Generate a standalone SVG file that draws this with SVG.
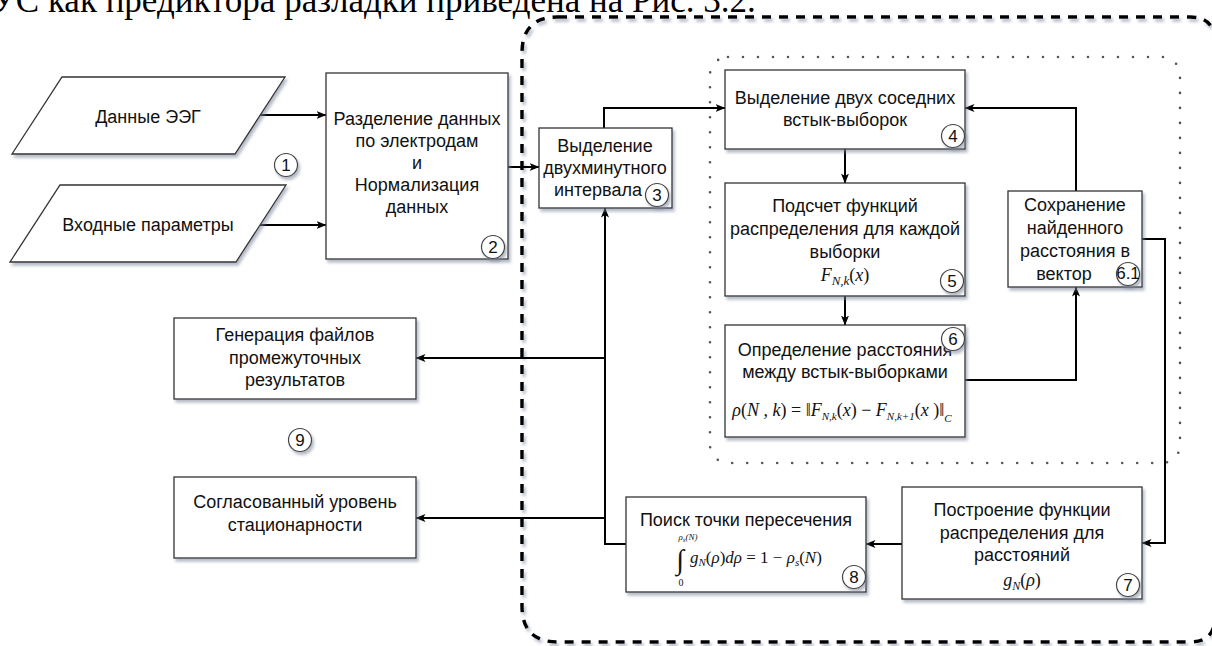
<svg xmlns="http://www.w3.org/2000/svg" width="1212" height="646" viewBox="0 0 1212 646">
<defs>
<filter id="sh" x="-10%" y="-10%" width="130%" height="140%">
<feDropShadow dx="2" dy="3" stdDeviation="1.5" flood-color="#7a8499" flood-opacity="0.55"/>
</filter>
<marker id="ar" viewBox="0 0 10 8" markerWidth="10" markerHeight="8" refX="9.5" refY="4" orient="auto" markerUnits="userSpaceOnUse">
<path d="M0,0 L10,4 L0,8 L2.5,4 z" fill="#000"/>
</marker>
<style>
.box{fill:#fff;stroke:#333;stroke-width:1.3;filter:url(#sh)}
.t{font-family:"Liberation Sans",Arial,sans-serif;font-size:18px;fill:#111;text-anchor:middle}
.m{font-family:"Liberation Serif","Times New Roman",serif;font-size:18px;font-style:italic;fill:#111;text-anchor:middle}
.nc{fill:#fff;stroke:#444;stroke-width:1.2;filter:url(#sh)}
.nt{font-family:"Liberation Sans",Arial,sans-serif;font-size:17px;fill:#111;text-anchor:middle}
.ca{fill:none;stroke:#000;stroke-width:2;marker-end:url(#ar)}
.dash{fill:none;stroke:#000;stroke-width:3.5;stroke-dasharray:9 8;filter:url(#sh)}
.dot{fill:none;stroke:#555;stroke-width:2.6;stroke-dasharray:0 15;stroke-linecap:round}
</style>
</defs>

<text x="-9" y="12" font-family="Liberation Serif,'Times New Roman',serif" font-size="35" fill="#000">УС как предиктора разладки приведена на Рис. 3.2.</text>

<g id="borders">
<path class="dash" d="M558,17 L1190,17 Q1215,17 1215,42 L1215,617 Q1215,642 1190,642 L558,642 Q522,642 522,606 L522,53 Q522,17 558,17 Z"/>
<rect class="dot" x="710" y="57" width="470" height="406" rx="18"/>
</g>

<g id="connectors">
<polyline class="ca" points="260,115 326,115"/>
<polyline class="ca" points="260,225 326,225"/>
<polyline class="ca" points="508,167 539,167"/>
<polyline class="ca" points="604,128 604,108 725,108"/>
<polyline class="ca" points="845,149 845,183"/>
<polyline class="ca" points="845,296 845,325"/>
<polyline class="ca" points="965,380 1076,380 1076,287"/>
<polyline class="ca" points="1076,191 1076,108 965,108"/>
<polyline class="ca" points="1142,239 1165,239 1165,543 1142,543"/>
<polyline class="ca" points="902,544 866,544"/>
<polyline class="ca" points="626,544 605,544 605,208"/>
<polyline class="ca" points="605,358 416,358"/>
<polyline class="ca" points="605,518 416,518"/>
</g>

<g id="n1">
<polygon class="box" points="62,77 285,77 235,154 12,154"/>
<text class="t" x="148" y="123">Данные ЭЭГ</text>
</g>
<g id="n1b">
<polygon class="box" points="60,185 286,185 236,262 10,262"/>
<text class="t" x="148" y="231">Входные параметры</text>
</g>
<g id="c1"><circle class="nc" cx="286" cy="165" r="11.5"/><text class="nt" x="286" y="171">1</text></g>

<g id="n2">
<rect class="box" x="326" y="73" width="182" height="186"/>
<text class="t" x="417" y="125">Разделение данных</text>
<text class="t" x="417" y="147">по электродам</text>
<text class="t" x="417" y="169">и</text>
<text class="t" x="417" y="191">Нормализация</text>
<text class="t" x="417" y="213">данных</text>
<circle class="nc" cx="493" cy="247" r="11.5"/><text class="nt" x="493" y="253">2</text>
</g>

<g id="n3">
<rect class="box" x="539" y="128" width="133" height="80"/>
<text class="t" x="605" y="152">Выделение</text>
<text class="t" x="605" y="174">двухминутного</text>
<text class="t" x="598" y="196">интервала</text>
<circle class="nc" cx="657" cy="195" r="11.5"/><text class="nt" x="657" y="201">3</text>
</g>

<g id="n4">
<rect class="box" x="725" y="70" width="240" height="79"/>
<text class="t" x="845" y="104">Выделение двух соседних</text>
<text class="t" x="845" y="126">встык-выборок</text>
<circle class="nc" cx="953" cy="136" r="11.5"/><text class="nt" x="953" y="142">4</text>
</g>

<g id="n5">
<rect class="box" x="725" y="183" width="240" height="113"/>
<text class="t" x="845" y="212">Подсчет функций</text>
<text class="t" x="845" y="235">распределения для каждой</text>
<text class="t" x="845" y="258">выборки</text>
<text class="m" x="845" y="281">F<tspan font-size="13" dy="4">N,k</tspan><tspan dy="-4" font-style="normal">(</tspan>x<tspan font-style="normal">)</tspan></text>
<circle class="nc" cx="952" cy="281" r="11.5"/><text class="nt" x="952" y="287">5</text>
</g>

<g id="n6">
<rect class="box" x="725" y="325" width="240" height="112"/>
<text class="t" x="845" y="356">Определение расстояния</text>
<text class="t" x="845" y="378">между встык-выборками</text>
<text class="m" x="842" y="416" font-size="15.5">ρ<tspan font-style="normal">(</tspan>N , k<tspan font-style="normal">) = ‖</tspan>F<tspan font-size="11" dy="4">N,k</tspan><tspan dy="-4" font-style="normal">(</tspan>x<tspan font-style="normal">) − </tspan>F<tspan font-size="11" dy="4">N,k+1</tspan><tspan dy="-4" font-style="normal">(</tspan>x <tspan font-style="normal">)‖</tspan><tspan font-size="11" dy="6">C</tspan></text>
<circle class="nc" cx="953" cy="339" r="11.5"/><text class="nt" x="953" y="345">6</text>
</g>

<g id="n61">
<rect class="box" x="1008" y="191" width="134" height="96"/>
<text class="t" x="1075" y="211">Сохранение</text>
<text class="t" x="1075" y="234">найденного</text>
<text class="t" x="1075" y="257">расстояния в</text>
<text class="t" x="1064" y="280">вектор</text>
<circle class="nc" cx="1128" cy="274" r="11.5"/><text class="nt" x="1128" y="278.5" font-size="12">6.1</text>
</g>

<g id="n7">
<rect class="box" x="902" y="487" width="240" height="112"/>
<text class="t" x="1022" y="516">Построение функции</text>
<text class="t" x="1022" y="539">распределения для</text>
<text class="t" x="1022" y="561">расстояний</text>
<text class="m" x="1022" y="586">g<tspan font-size="12" dy="4">N</tspan><tspan dy="-4" font-style="normal">(</tspan>ρ<tspan font-style="normal">)</tspan></text>
<circle class="nc" cx="1128" cy="585" r="11.5"/><text class="nt" x="1128" y="591">7</text>
</g>

<g id="n8">
<rect class="box" x="626" y="497" width="240" height="95"/>
<text class="t" x="746" y="526">Поиск точки пересечения</text>
<text x="680" y="569" font-family="Liberation Serif,serif" font-size="28" fill="#111" text-anchor="middle">∫</text>
<text x="688" y="540" font-family="Liberation Serif,serif" font-size="9" font-style="italic" fill="#111" text-anchor="middle">ρ<tspan font-size="7" dy="2">s</tspan><tspan dy="-2">(N)</tspan></text>
<text x="681" y="586" font-family="Liberation Serif,serif" font-size="10" fill="#111" text-anchor="middle">0</text>
<text x="690" y="563" font-family="Liberation Serif,serif" font-size="17" font-style="italic" fill="#111">g<tspan font-size="11" dy="3">N</tspan><tspan dy="-3" font-style="normal">(</tspan>ρ<tspan font-style="normal">)</tspan>dρ<tspan font-style="normal"> = 1 − </tspan>ρ<tspan font-size="11" dy="3">s</tspan><tspan dy="-3" font-style="normal">(</tspan>N<tspan font-style="normal">)</tspan></text>
<circle class="nc" cx="854" cy="577" r="11.5"/><text class="nt" x="854" y="583">8</text>
</g>

<g id="n9a">
<rect class="box" x="174" y="318" width="242" height="81"/>
<text class="t" x="295" y="341">Генерация файлов</text>
<text class="t" x="295" y="364">промежуточных</text>
<text class="t" x="295" y="386">результатов</text>
</g>
<g id="c9"><circle class="nc" cx="300" cy="440" r="11.5"/><text class="nt" x="300" y="446">9</text></g>
<g id="n9b">
<rect class="box" x="174" y="477" width="242" height="81"/>
<text class="t" x="295" y="508">Согласованный уровень</text>
<text class="t" x="295" y="531">стационарности</text>
</g>
</svg>
